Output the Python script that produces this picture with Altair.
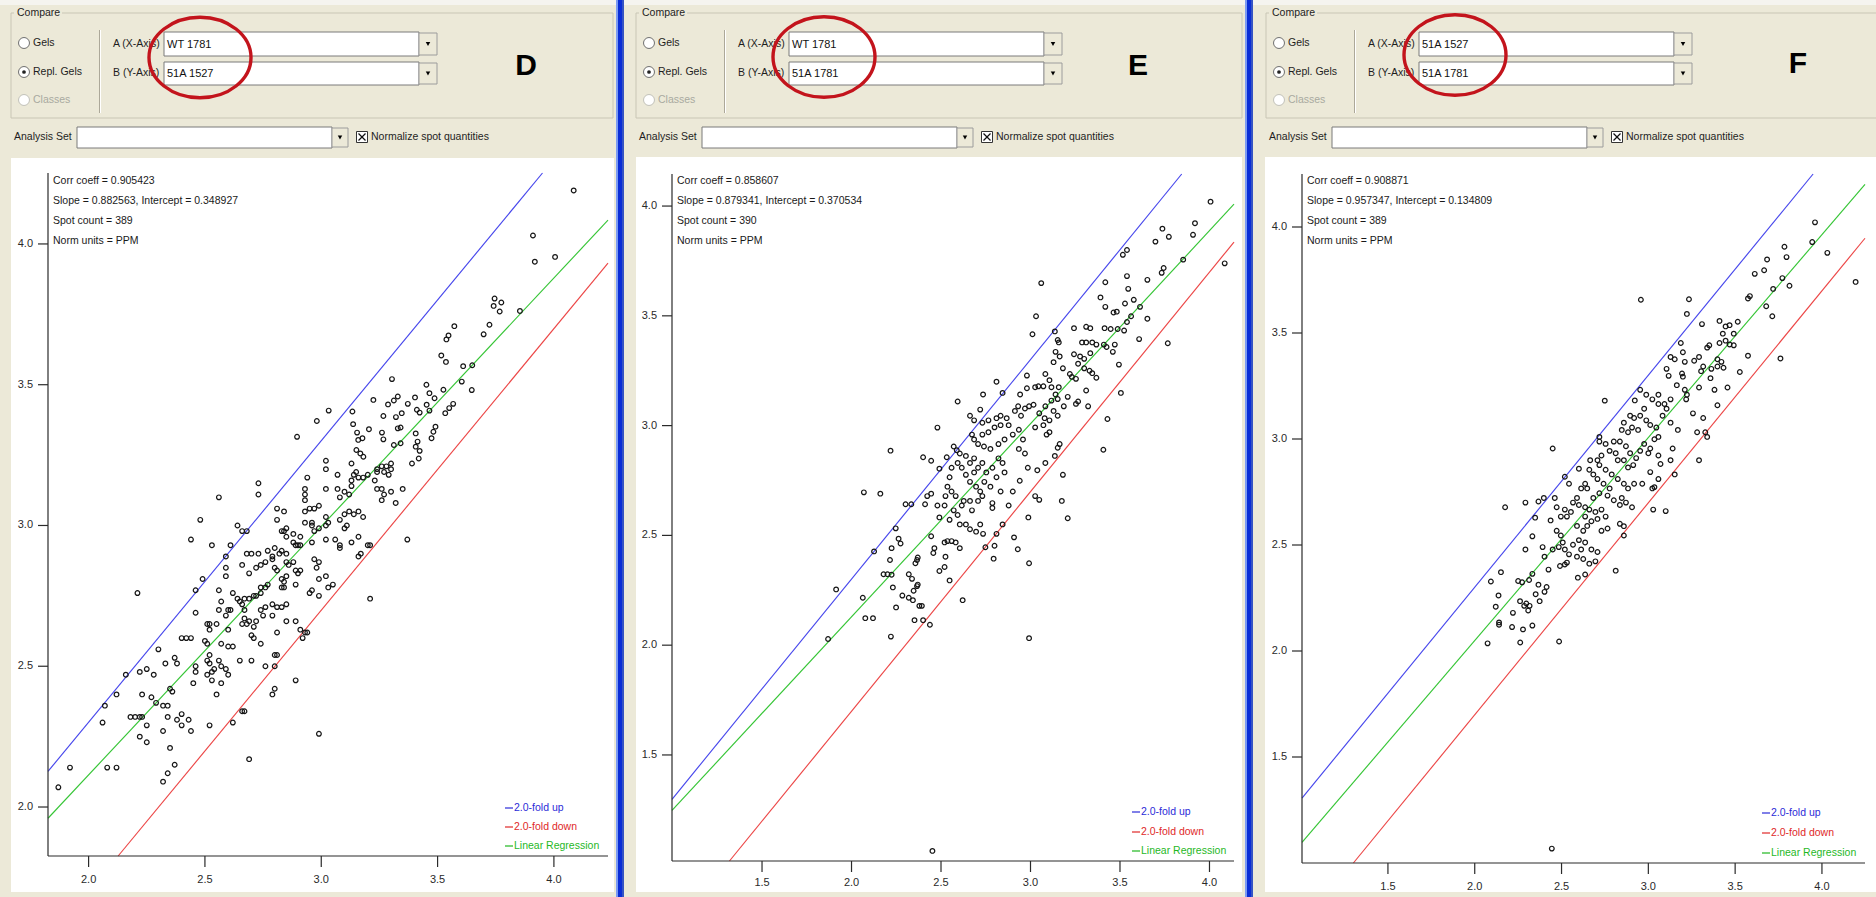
import math
import altair as alt
import pandas as pd

FONT = "Liberation Sans"
BEIGE = "#ECE9D8"

# ------------------------------------------------------------------ data
panel_letter = ["D", "E", "F"]
gel_a = ["WT 1781", "WT 1781", "51A 1527"]
gel_b = ["51A 1527", "51A 1781", "51A 1781"]
corr_coeff = ["0.905423", "0.858607", "0.908871"]
slope_txt = ["0.882563", "0.879341", "0.957347"]
intercept_txt = ["0.348927", "0.370534", "0.134809"]
spot_count = [389, 390, 389]
fold_change = 2.0
legend_labels = ["2.0-fold up", "2.0-fold down", "Linear Regression"]

x_tick_values = [[2.0, 2.5, 3.0, 3.5, 4.0],
                 [1.5, 2.0, 2.5, 3.0, 3.5, 4.0],
                 [1.5, 2.0, 2.5, 3.0, 3.5, 4.0]]
y_tick_values = [[2.0, 2.5, 3.0, 3.5, 4.0],
                 [1.5, 2.0, 2.5, 3.0, 3.5, 4.0],
                 [1.5, 2.0, 2.5, 3.0, 3.5, 4.0]]
axis_domain_x = [[1.8255, 4.2325], [0.997, 4.137], [1.005, 4.248]]
axis_domain_y = [[1.826, 4.252], [1.017, 4.146], [1.0, 4.25]]

spots_D = [
    (4.085, 4.19), (3.91, 4.03), (3.918, 3.937), (4.005, 3.954), (3.745, 3.806), (3.741, 3.78),
    (3.774, 3.792), (3.767, 3.76), (3.854, 3.762), (3.723, 3.713), (3.698, 3.679), (3.572, 3.708),
    (3.547, 3.675), (3.538, 3.661), (3.516, 3.604), (3.536, 3.581), (3.61, 3.566), (3.649, 3.569),
    (3.604, 3.511), (3.647, 3.481), (3.304, 3.52), (3.452, 3.5), (3.465, 3.47), (3.487, 3.452),
    (3.525, 3.482), (3.403, 3.455), (3.372, 3.432), (3.329, 3.458), (3.312, 3.444), (3.287, 3.43),
    (3.224, 3.446), (3.267, 3.389), (3.321, 3.385), (3.346, 3.399), (3.411, 3.411), (3.423, 3.401),
    (3.453, 3.429), (3.465, 3.408), (3.533, 3.399), (3.55, 3.417), (3.567, 3.432), (3.491, 3.351),
    (3.482, 3.333), (3.474, 3.31), (3.329, 3.345), (3.341, 3.348), (3.406, 3.327), (3.414, 3.298),
    (3.406, 3.28), (3.423, 3.265), (3.419, 3.238), (3.312, 3.286), (3.341, 3.292), (3.261, 3.33),
    (3.267, 3.306), (3.205, 3.342), (3.134, 3.405), (3.137, 3.36), (3.154, 3.33), (3.159, 3.304),
    (3.177, 3.31), (3.151, 3.268), (3.168, 3.256), (3.181, 3.244), (3.032, 3.408), (2.981, 3.371),
    (2.896, 3.315),
    (3.02, 3.23), (3.02, 3.20), (3.13, 3.22), (3.07, 3.18), (3.15, 3.19), (3.14, 3.18), (3.16, 3.17),
    (3.13, 3.16), (3.24, 3.20), (3.26, 3.21), (3.28, 3.21), (3.30, 3.22), (3.27, 3.19), (3.24, 3.19),
    (3.30, 3.20), (3.29, 3.18), (3.39, 3.22), (2.94, 3.17), (2.73, 3.15), (2.73, 3.11), (2.56, 3.10),
    (2.93, 3.13), (2.93, 3.11), (2.93, 3.09), (3.02, 3.13), (3.07, 3.13), (3.08, 3.10), (3.10, 3.12),
    (3.12, 3.11), (3.13, 3.14), (3.23, 3.16), (3.24, 3.13), (3.26, 3.13), (3.27, 3.11), (3.26, 3.09),
    (3.30, 3.12), (3.35, 3.13), (3.32, 3.08), (3.18, 3.17), (3.20, 3.18), (2.93, 3.05), (2.95, 3.06),
    (2.97, 3.06), (2.99, 3.07), (2.81, 3.06), (2.84, 3.05), (2.81, 3.02), (3.02, 3.03), (3.03, 3.01),
    (3.08, 3.02), (3.10, 3.04), (3.12, 3.05), (3.14, 3.04), (3.16, 3.05), (3.18, 3.03), (3.10, 2.99),
    (3.11, 3.00), (2.48, 3.02), (2.64, 3.00), (2.66, 2.98), (2.68, 2.98), (2.83, 2.98), (2.84, 2.98),
    (2.85, 2.99), (2.85, 2.96), (2.88, 2.97), (2.88, 2.94), (2.89, 2.93), (2.91, 2.96), (2.90, 2.93),
    (2.93, 3.01), (2.96, 3.01), (2.96, 3.00), (2.97, 2.98), (2.99, 2.99), (2.96, 2.94), (2.91, 2.93),
    (3.02, 3.00), (3.02, 2.95), (3.06, 2.95), (3.08, 2.93), (3.08, 2.92), (3.13, 2.94), (3.16, 2.96),
    (2.44, 2.95), (2.53, 2.93), (2.61, 2.93), (2.59, 2.89), (2.59, 2.85), (2.59, 2.82), (2.66, 2.86),
    (2.68, 2.90), (2.70, 2.90), (2.73, 2.90), (2.69, 2.83), (2.72, 2.85), (2.74, 2.86), (2.76, 2.87),
    (2.77, 2.91), (2.80, 2.92), (2.82, 2.90), (2.83, 2.91), (2.79, 2.89), (2.79, 2.88), (2.85, 2.90),
    (2.85, 2.87), (2.86, 2.86), (2.88, 2.87), (2.89, 2.84), (2.90, 2.83), (2.91, 2.84), (2.89, 2.79),
    (2.85, 2.82), (2.80, 2.85), (2.81, 2.84), (2.83, 2.81), (2.83, 2.78), (2.84, 2.78), (2.84, 2.80),
    (2.97, 2.88), (2.99, 2.87), (2.98, 2.85), (2.99, 2.81), (3.02, 2.82), (3.03, 2.78), (3.05, 2.79),
    (2.99, 2.75), (2.95, 2.76), (2.96, 2.77), (3.20, 2.93), (3.21, 2.93), (3.17, 2.90), (3.16, 2.89),
    (3.37, 2.95), (2.49, 2.81), (2.46, 2.77), (2.46, 2.69), (2.21, 2.76), (2.56, 2.77), (2.57, 2.73),
    (2.56, 2.70), (2.51, 2.65), (2.52, 2.65), (2.52, 2.63), (2.55, 2.65), (2.59, 2.68), (2.60, 2.70),
    (2.61, 2.70), (2.60, 2.63), (2.62, 2.76), (2.64, 2.74), (2.65, 2.73), (2.66, 2.72), (2.67, 2.70),
    (2.67, 2.67), (2.66, 2.65), (2.68, 2.65), (2.69, 2.66), (2.71, 2.64), (2.70, 2.61), (2.71, 2.60),
    (2.72, 2.66), (2.67, 2.74), (2.69, 2.74), (2.71, 2.75), (2.72, 2.75), (2.74, 2.76), (2.74, 2.78),
    (2.76, 2.78), (2.77, 2.79), (2.74, 2.70), (2.75, 2.68), (2.76, 2.71), (2.79, 2.72), (2.79, 2.68),
    (2.81, 2.71), (2.83, 2.71), (2.85, 2.72), (2.85, 2.66), (2.89, 2.66), (2.91, 2.63), (2.93, 2.62),
    (2.94, 2.62), (2.92, 2.60), (2.81, 2.62), (2.74, 2.58), (3.21, 2.74), (2.40, 2.60), (2.42, 2.60),
    (2.44, 2.60), (2.50, 2.59), (2.51, 2.58), (2.52, 2.54), (2.57, 2.58), (2.60, 2.57), (2.62, 2.57),
    (2.30, 2.56), (2.33, 2.51), (2.37, 2.53), (2.38, 2.51), (2.28, 2.47), (2.22, 2.48), (2.25, 2.49),
    (2.16, 2.47), (2.46, 2.50), (2.46, 2.48), (2.51, 2.52), (2.51, 2.47), (2.53, 2.48), (2.52, 2.51),
    (2.54, 2.49), (2.56, 2.52), (2.57, 2.50), (2.59, 2.49), (2.60, 2.47), (2.53, 2.45), (2.57, 2.44),
    (2.55, 2.40), (2.45, 2.44), (2.65, 2.52), (2.70, 2.52), (2.76, 2.50), (2.80, 2.54), (2.81, 2.54),
    (2.80, 2.50), (2.89, 2.45), (2.80, 2.42), (2.79, 2.40), (2.66, 2.34), (2.67, 2.34), (2.62, 2.30),
    (2.69, 2.17), (2.99, 2.26), (2.12, 2.40), (2.07, 2.36), (2.06, 2.30), (2.18, 2.32), (2.20, 2.32),
    (2.22, 2.32), (2.23, 2.32), (2.22, 2.25), (2.25, 2.23), (2.25, 2.29), (2.23, 2.40), (2.27, 2.39),
    (2.29, 2.37), (2.32, 2.36), (2.34, 2.36), (2.34, 2.32), (2.32, 2.27), (2.35, 2.42), (2.36, 2.41),
    (2.35, 2.21), (2.37, 2.15), (2.38, 2.31), (2.40, 2.33), (2.40, 2.29), (2.43, 2.31), (2.44, 2.27),
    (2.52, 2.29), (2.32, 2.09), (2.34, 2.12), (2.08, 2.14), (2.12, 2.14), (1.92, 2.14), (1.87, 2.07),
]

spots_E = [
    (4.006, 4.02), (3.737, 3.897), (3.773, 3.86), (3.698, 3.838), (3.919, 3.922), (3.908, 3.869),
    (4.085, 3.739), (3.853, 3.756), (3.744, 3.718), (3.733, 3.696), (3.767, 3.375), (3.539, 3.80),
    (3.516, 3.778), (3.539, 3.681), (3.546, 3.623), (3.577, 3.573), (3.528, 3.556), (3.482, 3.519),
    (3.464, 3.515), (3.612, 3.541), (3.653, 3.664), (3.653, 3.487), (3.562, 3.498), (3.539, 3.472),
    (3.607, 3.394), (3.418, 3.653), (3.391, 3.584), (3.418, 3.541), (3.448, 3.44), (3.414, 3.444),
    (3.487, 3.44), (3.523, 3.433), (3.41, 3.369), (3.425, 3.358), (3.471, 3.369), (3.46, 3.336),
    (3.494, 3.278), (3.505, 3.149), (3.43, 3.03), (3.407, 2.89), (3.06, 3.649), (3.031, 3.498),
    (3.011, 3.416), (3.136, 3.429), (3.152, 3.39), (3.158, 3.379), (3.14, 3.336), (3.129, 3.289),
    (3.163, 3.315), (3.181, 3.261), (3.243, 3.444), (3.311, 3.45), (3.334, 3.444), (3.288, 3.379),
    (3.311, 3.379), (3.345, 3.379), (3.368, 3.369), (3.243, 3.325), (3.277, 3.315), (3.3, 3.304),
    (3.334, 3.33), (3.266, 3.282), (3.3, 3.261), (3.33, 3.25), (3.22, 3.235), (3.231, 3.222),
    (3.254, 3.213), (3.345, 3.239), (3.368, 3.218), (3.311, 3.16), (3.322, 3.088), (3.266, 3.11),
    (3.254, 3.099), (3.208, 3.131), (3.186, 3.088), (3.083, 3.235), (3.106, 3.207), (3.117, 3.175),
    (3.158, 3.175), (3.14, 3.142), (3.152, 3.121), (3.117, 3.114), (3.083, 3.088), (3.026, 3.175),
    (3.044, 3.179), (3.072, 3.179), (2.98, 3.17), (2.942, 3.142), (3.017, 3.095), (3.049, 3.056),
    (3.079, 3.034), (3.106, 3.024), (3.129, 3.067), (3.152, 3.045), (3.026, 2.992), (3.072, 3.002),
    (3.09, 2.959), (3.106, 2.97), (3.163, 2.916), (3.152, 2.899), (3.136, 2.862), (3.083, 2.83),
    (3.038, 2.797), (3.181, 2.776), (3.175, 2.657), (3.208, 2.578), (2.98, 3.228), (2.81, 3.2),
    (2.844, 3.149), (2.735, 3.142), (2.593, 3.11), (2.719, 3.073), (2.662, 3.045), (2.685, 3.024),
    (2.731, 3.013), (2.765, 3.024), (2.81, 3.034), (2.833, 3.045), (2.867, 3.034), (2.913, 3.067),
    (2.931, 3.088), (2.947, 3.045), (2.969, 3.078), (2.992, 3.088), (2.878, 3.002), (2.833, 3.002),
    (2.799, 2.992), (2.765, 2.97), (2.731, 2.959), (2.673, 2.959), (2.685, 2.937), (2.707, 2.916),
    (2.74, 2.905), (2.776, 2.894), (2.821, 2.916), (2.855, 2.937), (2.901, 2.959), (2.935, 2.981),
    (2.958, 2.937), (2.969, 2.873), (2.935, 2.894), (2.985, 2.808), (2.94, 2.749), (2.901, 2.70),
    (2.878, 2.636), (3.026, 2.679), (3.049, 2.662), (2.844, 2.55), (2.81, 2.507), (2.908, 2.491),
    (2.929, 2.437), (2.988, 2.582), (2.992, 2.373), (2.992, 2.032), (2.799, 2.453), (2.794, 2.394),
    (2.748, 2.446), (2.719, 2.55), (2.696, 2.517), (2.735, 2.507), (2.639, 2.55), (2.662, 2.528),
    (2.673, 2.614), (2.616, 2.636), (2.627, 2.657), (2.662, 2.657), (2.707, 2.657), (2.787, 2.647),
    (2.787, 2.625), (2.731, 2.679), (2.719, 2.70), (2.696, 2.722), (2.662, 2.744), (2.639, 2.776),
    (2.616, 2.808), (2.593, 2.83), (2.605, 2.873), (2.571, 2.905), (2.639, 2.862), (2.662, 2.83),
    (2.685, 2.851), (2.707, 2.808), (2.731, 2.83), (2.753, 2.787), (2.787, 2.808), (2.821, 2.851),
    (2.844, 2.83), (2.855, 2.787), (2.81, 2.765), (2.833, 2.70), (2.776, 2.722), (2.742, 2.744),
    (2.685, 2.787), (2.559, 2.808), (2.548, 2.765), (2.536, 2.722), (2.559, 2.70), (2.582, 2.679),
    (2.525, 2.679), (2.52, 2.636), (2.571, 2.614), (2.593, 2.593), (2.548, 2.571), (2.605, 2.55),
    (2.491, 2.582), (2.48, 2.636), (2.532, 2.856), (2.588, 2.888), (2.48, 2.991), (2.491, 2.804),
    (2.445, 2.84), (2.40, 2.856), (2.423, 2.679), (2.411, 2.642), (2.445, 2.69), (2.334, 2.642),
    (2.302, 2.642), (2.218, 2.886), (2.161, 2.69), (2.069, 2.696), (2.126, 2.427), (2.247, 2.532),
    (2.263, 2.485), (2.274, 2.463), (2.224, 2.442), (2.215, 2.388), (2.179, 2.323), (2.201, 2.323),
    (2.224, 2.321), (2.231, 2.263), (2.249, 2.172), (2.284, 2.226), (2.32, 2.323), (2.338, 2.302),
    (2.347, 2.248), (2.32, 2.216), (2.343, 2.205), (2.366, 2.269), (2.37, 2.276), (2.357, 2.373),
    (2.37, 2.399), (2.366, 2.388), (2.379, 2.179), (2.393, 2.179), (2.352, 2.114), (2.40, 2.114),
    (2.438, 2.093), (2.445, 2.496), (2.457, 2.42), (2.463, 2.442), (2.491, 2.338), (2.52, 2.356),
    (2.525, 2.403), (2.52, 2.468), (2.536, 2.474), (2.559, 2.474), (2.582, 2.468), (2.605, 2.442),
    (2.548, 2.295), (2.621, 2.205), (1.914, 2.254), (1.869, 2.028), (2.063, 2.216), (2.077, 2.123),
    (2.12, 2.123), (2.22, 2.039), (2.452, 1.063),
]

spots_F = [
    (3.96, 4.022), (3.944, 3.929), (4.031, 3.878), (4.194, 3.741), (3.784, 3.907), (3.796, 3.858),
    (3.684, 3.847), (3.667, 3.796), (3.613, 3.779), (3.772, 3.759), (3.813, 3.723), (3.719, 3.708),
    (3.585, 3.674), (3.574, 3.663), (3.679, 3.626), (3.714, 3.579), (3.761, 3.38), (3.234, 3.659),
    (3.222, 3.59), (2.957, 3.657), (3.309, 3.542), (3.41, 3.557), (3.445, 3.531), (3.468, 3.537),
    (3.492, 3.497), (3.515, 3.553), (3.429, 3.497), (3.41, 3.453), (3.445, 3.464), (3.468, 3.446),
    (3.492, 3.442), (3.351, 3.442), (3.339, 3.431), (3.292, 3.387), (3.398, 3.376), (3.421, 3.364),
    (3.398, 3.342), (3.433, 3.336), (3.574, 3.393), (3.527, 3.316), (3.187, 3.453), (3.199, 3.409),
    (3.152, 3.376), (3.128, 3.387), (3.21, 3.364), (3.264, 3.369), (3.316, 3.342), (3.363, 3.331),
    (3.358, 3.287), (3.304, 3.32), (3.105, 3.331), (3.117, 3.298), (3.194, 3.309), (3.199, 3.294),
    (3.164, 3.254), (3.21, 3.232), (3.222, 3.209), (3.218, 3.187), (3.292, 3.243), (3.381, 3.232),
    (3.456, 3.243), (3.398, 3.159), (3.257, 3.121), (3.316, 3.099), (3.281, 3.032), (3.339, 3.01),
    (3.328, 3.032), (3.292, 2.9), (3.128, 3.077), (3.17, 3.043), (3.082, 3.11), (3.105, 3.143),
    (3.128, 3.187), (3.058, 3.209), (3.023, 3.187), (3.058, 3.165), (3.093, 3.165), (2.988, 3.209),
    (2.953, 3.232), (2.922, 3.182), (2.976, 3.143), (2.953, 3.11), (2.918, 3.099), (2.895, 3.11),
    (2.859, 3.077), (2.847, 3.043), (2.883, 3.032), (2.906, 3.054), (2.941, 3.043), (2.988, 3.088),
    (3.011, 3.066), (3.046, 3.054), (3.058, 3.01), (3.035, 2.999), (3.011, 2.955), (2.976, 2.977),
    (2.953, 2.944), (2.93, 2.91), (2.895, 2.933), (2.871, 2.966), (2.836, 2.988), (2.801, 2.988),
    (2.777, 2.944), (2.812, 2.933), (2.824, 2.9), (2.859, 2.9), (2.883, 2.866), (2.913, 2.877),
    (3.0, 2.933), (3.058, 2.922), (3.07, 2.882), (3.14, 2.955), (3.128, 2.9), (3.152, 2.833),
    (3.011, 2.844), (3.058, 2.811), (3.023, 2.767), (2.965, 2.789), (2.918, 2.789), (2.883, 2.767),
    (2.859, 2.789), (2.824, 2.811), (2.789, 2.833), (2.754, 2.855), (2.718, 2.877), (2.73, 2.922),
    (2.707, 2.9), (2.718, 3.01), (2.749, 3.181), (2.665, 2.9), (2.66, 2.855), (2.683, 2.833),
    (2.707, 2.811), (2.742, 2.789), (2.777, 2.767), (2.765, 2.733), (2.801, 2.711), (2.836, 2.689),
    (2.871, 2.7), (2.906, 2.678), (2.847, 2.722), (2.718, 2.744), (2.683, 2.722), (2.648, 2.767),
    (2.636, 2.789), (2.613, 2.767), (2.589, 2.722), (2.566, 2.7), (2.6, 2.689), (2.636, 2.678),
    (2.66, 2.667), (2.695, 2.656), (2.73, 2.667), (2.754, 2.634), (2.707, 2.623), (2.672, 2.612),
    (2.636, 2.634), (2.648, 2.59), (2.625, 2.567), (2.589, 2.59), (2.554, 2.656), (2.519, 2.667),
    (2.531, 2.634), (2.496, 2.634), (2.472, 2.678), (2.461, 2.722), (2.519, 2.822), (2.543, 2.789),
    (2.6, 2.86), (2.449, 2.955), (2.367, 2.705), (2.398, 2.722), (2.292, 2.7), (2.175, 2.678),
    (2.348, 2.629), (2.332, 2.541), (2.437, 2.616), (2.472, 2.567), (2.496, 2.545), (2.507, 2.512),
    (2.484, 2.49), (2.449, 2.479), (2.402, 2.445), (2.391, 2.49), (2.519, 2.479), (2.543, 2.456),
    (2.566, 2.501), (2.6, 2.523), (2.636, 2.512), (2.613, 2.479), (2.589, 2.445), (2.625, 2.434),
    (2.672, 2.479), (2.695, 2.423), (2.66, 2.412), (2.707, 2.467), (2.73, 2.567), (2.765, 2.578),
    (2.836, 2.6), (2.859, 2.589), (2.859, 2.545), (3.028, 2.667), (3.1, 2.66), (3.035, 2.773),
    (2.812, 2.379), (2.636, 2.361), (2.594, 2.346), (2.491, 2.401), (2.519, 2.408), (2.531, 2.417),
    (2.425, 2.384), (2.414, 2.302), (2.402, 2.279), (2.374, 2.235), (2.367, 2.313), (2.351, 2.268),
    (2.332, 2.364), (2.313, 2.335), (2.297, 2.224), (2.308, 2.191), (2.285, 2.213), (2.316, 2.213),
    (2.261, 2.235), (2.273, 2.324), (2.292, 2.479), (2.25, 2.33), (2.22, 2.18), (2.215, 2.113),
    (2.262, 2.04), (2.278, 2.102), (2.332, 2.12), (2.14, 2.135), (2.14, 2.124), (2.121, 2.209),
    (2.151, 2.372), (2.093, 2.328), (2.137, 2.262), (2.074, 2.036), (2.486, 2.045), (2.444, 1.068),
    (2.718, 2.988), (2.754, 2.977),
]
spots = [spots_D, spots_E, spots_F]

# ------------------------------------------------------------------ layout (pixels)
W, H = 1876, 897
ox = [0, 625, 1255]
plot_x = [[48, 608], [672, 1234], [1302, 1865]]
plot_y = [[856, 173], [861, 174], [863, 174]]
tick_label_y = [880, 883, 887]
white_x = [[11, 614], [636, 1242], [1265, 1876]]
white_top = [158, 157, 157]
box_right = [613, 1242, 1880]
letter_pos = [(526, 66), (1138, 66), (1798, 64)]
ellipse_c = [(200, 57.5), (824, 57), (1455, 55)]
legend_x = [514, 1141, 1771]
legend_y = [[808, 827, 846], [812, 832, 851], [813, 833, 853]]
stat_y = [181, 201, 221, 241]
LINE_COLORS = ["#4646EC", "#EC4646", "#35C535"]
LEGEND_COLORS = ["#2B2BD8", "#E02828", "#1FB81F"]
UI_TEXT = "#1E1E1E"

# ------------------------------------------------------------------ chrome
rects, texts, radios, dots, arrows, xrules = [], [], [], [], [], []


def rect(x, x2, y, y2, f, s="transparent"):
    rects.append(dict(x=x, x2=x2, y=y, y2=y2, f=f, s=s))


def text(x, y, t, c=UI_TEXT, size=10.5):
    texts.append(dict(x=x, y=y, t=t, c=c, sz=size))


rect(0, W, 0, 5, "#F5F4EF")
for i in range(3):
    o = ox[i]
    rect(o + 11, box_right[i], 13, 118, "transparent", "#C9C6B5")
    rect(o + 14, o + 62, 6, 20, BEIGE)
    text(o + 17, 13, "Compare")
    for yy, lab, col in [(43, "Gels", UI_TEXT), (72, "Repl. Gels", UI_TEXT), (100, "Classes", "#A9A9A0")]:
        radios.append(dict(x=o + 24, y=yy, f="#FFFFFF", s="#6F6F6F" if col == UI_TEXT else "#C2C2BA"))
        text(o + 33, yy, lab, col)
    dots.append(dict(x=o + 24, y=72))
    rect(o + 99, o + 100, 30, 113, "#ACA899")
    rect(o + 100, o + 101, 30, 113, "#FFFFFF")
    text(o + 113, 44, "A (X-Axis)")
    text(o + 113, 73, "B (Y-Axis)")
    for (y0, y1), val in [((32, 56), gel_a[i]), ((62, 85), gel_b[i])]:
        rect(o + 164, o + 419, y0, y1, "#FFFFFF", "#7A7A7A")
        rect(o + 419, o + 437, y0 + 1, y1 - 1, "#ECE9D8", "#9C9C9C")
        arrows.append(dict(x=o + 428, y=(y0 + y1) / 2))
        text(o + 167, (y0 + y1) / 2 + 0.5, val, "#111111", 11)
    text(o + 14, 137, "Analysis Set")
    rect(o + 77, o + 332, 127, 148, "#FFFFFF", "#7A7A7A")
    rect(o + 332, o + 348, 128, 147, "#ECE9D8", "#9C9C9C")
    arrows.append(dict(x=o + 340, y=137.5))
    rect(o + 356.5, o + 367.5, 131.5, 142.5, "#FFFFFF", "#333333")
    xrules.append(dict(x=o + 358.5, x2=o + 365.5, y=133.5, y2=140.5, c="#111111"))
    xrules.append(dict(x=o + 365.5, x2=o + 358.5, y=133.5, y2=140.5, c="#111111"))
    text(o + 371, 137, "Normalize spot quantities")
    rect(white_x[i][0], white_x[i][1], white_top[i], 892, "#FFFFFF")
    # stats block
    sx = plot_x[i][0] + 5
    stats = [f"Corr coeff = {corr_coeff[i]}",
             f"Slope = {slope_txt[i]}, Intercept = {intercept_txt[i]}",
             f"Spot count = {spot_count[i]}",
             "Norm units = PPM"]
    for yy, t in zip(stat_y, stats):
        text(sx, yy, t, "#1A1A1A", 10.5)
    # legend
    for k in range(3):
        xrules.append(dict(x=legend_x[i] - 9, x2=legend_x[i] - 1, y=legend_y[i][k], y2=legend_y[i][k],
                           c=LEGEND_COLORS[k]))
        text(legend_x[i], legend_y[i][k], legend_labels[k], LEGEND_COLORS[k], 10.5)
    # axis domain lines
    xrules.append(dict(x=plot_x[i][0], x2=plot_x[i][0], y=plot_y[i][1], y2=plot_y[i][0], c="#2A2A2A"))
    xrules.append(dict(x=plot_x[i][0], x2=plot_x[i][1], y=plot_y[i][0], y2=plot_y[i][0], c="#2A2A2A"))

# panel separators (blue window borders)
for x0 in [616, 1245]:
    rect(x0, x0 + 2, 0, H, "#7C9BF3")
    rect(x0 + 2, x0 + 6, 0, H, "#0A2DD6")
    rect(x0 + 6, x0 + 8, 0, H, "#3553C4")

P = dict(scale=None)
rect_layer = alt.Chart(pd.DataFrame(rects)).mark_rect(strokeWidth=1).encode(
    x=alt.X("x:Q", **P), x2="x2:Q", y=alt.Y("y:Q", **P), y2="y2:Q",
    fill=alt.Fill("f:N", **P), stroke=alt.Stroke("s:N", **P))
radio_layer = alt.Chart(pd.DataFrame(radios)).mark_point(
    shape="circle", filled=True, size=120, strokeWidth=1, opacity=1).encode(
    x=alt.X("x:Q", **P), y=alt.Y("y:Q", **P),
    fill=alt.Fill("f:N", **P), stroke=alt.Stroke("s:N", **P))
dot_layer = alt.Chart(pd.DataFrame(dots)).mark_point(
    shape="circle", filled=True, size=14, color="#222222", opacity=1).encode(
    x=alt.X("x:Q", **P), y=alt.Y("y:Q", **P))
arrow_layer = alt.Chart(pd.DataFrame(arrows)).mark_point(
    shape="triangle-down", filled=True, size=20, color="#000000", opacity=1).encode(
    x=alt.X("x:Q", **P), y=alt.Y("y:Q", **P))
xrule_layer = alt.Chart(pd.DataFrame(xrules)).mark_rule(strokeWidth=1.2).encode(
    x=alt.X("x:Q", **P), x2="x2:Q", y=alt.Y("y:Q", **P), y2="y2:Q",
    color=alt.Color("c:N", **P))
text_layer = alt.Chart(pd.DataFrame(texts)).mark_text(
    align="left", baseline="middle", font=FONT).encode(
    x=alt.X("x:Q", **P), y=alt.Y("y:Q", **P), text="t:N",
    color=alt.Color("c:N", **P), size=alt.Size("sz:Q", **P))
letter_layer = alt.Chart(pd.DataFrame(dict(
    x=[p[0] for p in letter_pos], y=[p[1] for p in letter_pos], t=panel_letter))).mark_text(
    align="center", baseline="middle", font=FONT, fontSize=30, fontWeight="bold", color="#000000").encode(
    x=alt.X("x:Q", **P), y=alt.Y("y:Q", **P), text="t:N")
ELLIPSE = "M -1 0 A 1 0.79 0 1 1 1 0 A 1 0.79 0 1 1 -1 0 Z"
ellipse_layer = alt.Chart(pd.DataFrame(dict(
    x=[c[0] for c in ellipse_c], y=[c[1] for c in ellipse_c]))).mark_point(
    shape=ELLIPSE, filled=False, size=102 * 102, strokeWidth=3.4, color="#C3141C", opacity=1).encode(
    x=alt.X("x:Q", **P), y=alt.Y("y:Q", **P))


# ------------------------------------------------------------------ plots
def clipped(a, b, xd, yd):
    x0 = max(xd[0], (yd[0] - b) / a)
    x1 = min(xd[1], (yd[1] - b) / a)
    return pd.DataFrame(dict(a=[x0, x1], b=[a * x0 + b, a * x1 + b]))


def panel(i):
    xs = alt.Scale(domain=axis_domain_x[i], range=plot_x[i], nice=False, zero=False)
    ys = alt.Scale(domain=axis_domain_y[i], range=plot_y[i], nice=False, zero=False)

    def X(f):
        return alt.X(f, type="quantitative", scale=xs, axis=None)

    def Y(f):
        return alt.Y(f, type="quantitative", scale=ys, axis=None)

    lf = math.log10(fold_change)
    defs = [(1.0, lf), (1.0, -lf), (float(slope_txt[i]), float(intercept_txt[i]))]
    layers = []
    for (a, b), col in zip(defs, LINE_COLORS):
        layers.append(alt.Chart(clipped(a, b, axis_domain_x[i], axis_domain_y[i])).mark_line(
            color=col, strokeWidth=1.15).encode(x=X("a"), y=Y("b")))
    pts = pd.DataFrame(spots[i], columns=["a", "b"])
    layers.append(alt.Chart(pts).mark_point(
        shape="circle", filled=False, size=22, strokeWidth=1.2, color="#161616", opacity=1).encode(
        x=X("a"), y=Y("b")))
    xt = pd.DataFrame(dict(v=x_tick_values[i], lab=[f"{v:.1f}" for v in x_tick_values[i]]))
    yt = pd.DataFrame(dict(v=y_tick_values[i], lab=[f"{v:.1f}" for v in y_tick_values[i]]))
    base_y = plot_y[i][0]
    ax = plot_x[i][0]
    layers.append(alt.Chart(xt).mark_rule(color="#2A2A2A", strokeWidth=1.2).encode(
        x=X("v"), y=alt.value(base_y), y2=alt.value(base_y + 11)))
    layers.append(alt.Chart(xt).mark_text(font=FONT, fontSize=11, color="#2A2A2A", baseline="middle").encode(
        x=X("v"), y=alt.value(tick_label_y[i]), text="lab:N"))
    layers.append(alt.Chart(yt).mark_rule(color="#2A2A2A", strokeWidth=1.2).encode(
        y=Y("v"), x=alt.value(ax - 10), x2=alt.value(ax)))
    layers.append(alt.Chart(yt).mark_text(font=FONT, fontSize=11, color="#2A2A2A", align="right",
                                          baseline="middle").encode(
        y=Y("v"), x=alt.value(ax - 15), text="lab:N"))
    return alt.layer(*layers)


chart = alt.layer(
    rect_layer, radio_layer, dot_layer, arrow_layer,
    panel(0), panel(1), panel(2),
    xrule_layer, text_layer, letter_layer, ellipse_layer,
).resolve_scale(x="independent", y="independent").properties(
    width=W, height=H, autosize=alt.AutoSizeParams(type="none"), padding=0,
    background=BEIGE,
).configure_view(stroke=None)

chart.save("out.html", embed_options={"renderer": "svg", "actions": False})
